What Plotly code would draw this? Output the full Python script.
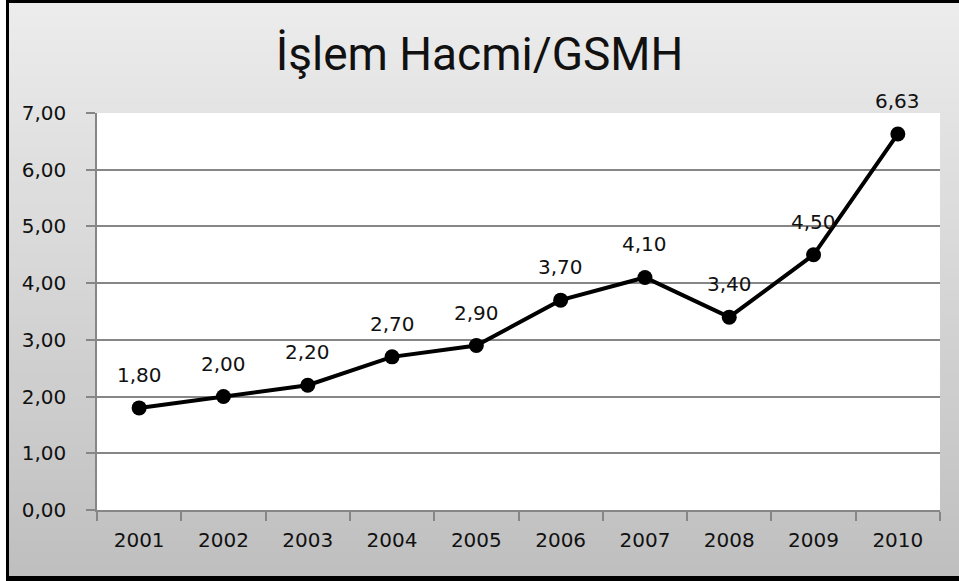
import plotly.graph_objects as go

years = ["2001", "2002", "2003", "2004", "2005", "2006", "2007", "2008", "2009", "2010"]
values = [1.80, 2.00, 2.20, 2.70, 2.90, 3.70, 4.10, 3.40, 4.50, 6.63]
y_ticks = [0, 1, 2, 3, 4, 5, 6, 7]
title_text = "İşlem Hacmi/GSMH"

W, H = 959, 581
L, R, T, B = 97, 19, 113, 71
PW, PH = W - L - R, H - T - B


def px(x):
    return (x - L) / PW


def py(y):
    return (H - B - y) / PH


shapes = []
# black border
shapes.append(dict(type="rect", xref="paper", yref="paper", layer="below",
                   x0=px(6), x1=px(W + 5), y0=py(H + 5), y1=py(-5),
                   fillcolor="black", line=dict(width=0)))
# gradient background
n = 48
top, bot = 3, 576
c_top, c_bot = 236, 191
for i in range(n):
    y0 = top + (bot - top) * i / n
    y1 = top + (bot - top) * (i + 1) / n
    c = round(c_top + (c_bot - c_top) * (i + 0.5) / n)
    y1e = y1 + 2 if i < n - 1 else y1
    shapes.append(dict(type="rect", xref="paper", yref="paper", layer="below",
                       x0=px(9), x1=px(W + 5), y0=py(y1e), y1=py(y0),
                       fillcolor=f"rgb({c},{c},{c})", line=dict(width=0)))
# white plot area
shapes.append(dict(type="rect", xref="paper", yref="paper", layer="below",
                   x0=0, x1=1, y0=0, y1=1,
                   fillcolor="white", line=dict(width=0)))

fig = go.Figure()
fig.add_trace(go.Scatter(
    x=years, y=values, mode="lines+markers",
    line=dict(color="black", width=4),
    marker=dict(color="black", size=15),
    hoverinfo="skip",
))

annotations = []
for i, v in enumerate(values):
    annotations.append(dict(x=i, y=v, xref="x", yref="y",
                            text=f"{v:.2f}".replace(".", ","),
                            showarrow=False, yshift=33,
                            font=dict(family="DejaVu Sans", size=20, color="#111111")))

fig.update_layout(
    width=W, height=H,
    margin=dict(l=L, r=R, t=T, b=B, pad=0),
    paper_bgcolor="white",
    plot_bgcolor="white",
    separators=",.",
    showlegend=False,
    shapes=shapes,
    annotations=annotations,
    title=dict(text=title_text, x=0.5, xanchor="center", xref="container",
               y=1 - 54 / H, yanchor="middle", yref="container",
               font=dict(family="Roboto", size=46, color="#111111")),
    xaxis=dict(
        type="category", tickson="boundaries", ticks="outside", ticklen=9,
        tickcolor="#868686", tickwidth=2, showgrid=False, showline=True,
        linecolor="#868686", linewidth=2, ticklabelstandoff=11,
        tickfont=dict(family="DejaVu Sans", size=20, color="#111111"),
        range=[-0.5, 9.5],
    ),
    yaxis=dict(
        range=[0, 7], tickvals=y_ticks, tickformat=".2f",
        ticks="outside", ticklen=9, tickcolor="#868686", tickwidth=2,
        showgrid=True, gridcolor="#868686", gridwidth=1.5,
        showline=True, linecolor="#868686", linewidth=1.5,
        zeroline=False, ticklabelstandoff=16,
        tickfont=dict(family="DejaVu Sans", size=20, color="#111111"),
    ),
)

fig.write_html("out.html",
               config={"displayModeBar": False},
               post_script="document.body.style.margin='0';document.body.style.overflow='hidden';")
